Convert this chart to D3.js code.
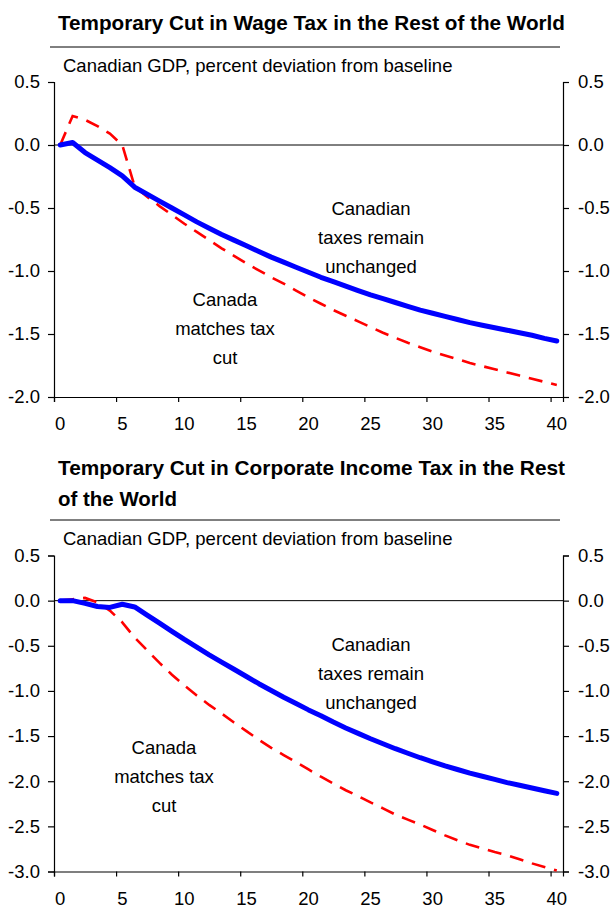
<!DOCTYPE html>
<html>
<head>
<meta charset="utf-8">
<script src="https://cdn.jsdelivr.net/npm/d3@7"></script>
<style>
  body { margin: 0; background: #fff; }
  svg { display: block; font-family: "Liberation Sans", Arial, sans-serif; }
</style>
</head>
<body>
<script>
// quarters after the shock (0..40)
var quarters = d3.range(0, 41);
var xTicks = [0, 5, 10, 15, 20, 25, 30, 35, 40];

// chart 1: temporary cut in wage tax
var wageUnchanged = [0.00, 0.02, -0.06, -0.12, -0.18, -0.245, -0.335, -0.39, -0.445, -0.50,
  -0.555, -0.61, -0.66, -0.71, -0.755, -0.80, -0.845, -0.89, -0.93, -0.97,
  -1.01, -1.05, -1.085, -1.12, -1.155, -1.19, -1.22, -1.25, -1.28, -1.31,
  -1.335, -1.36, -1.385, -1.41, -1.43, -1.45, -1.47, -1.49, -1.51, -1.535, -1.555];
var wageMatches = [0.00, 0.23, 0.20, 0.15, 0.09, 0.00, -0.33, -0.41, -0.485, -0.555,
  -0.625, -0.69, -0.755, -0.82, -0.88, -0.94, -0.995, -1.05, -1.10, -1.155,
  -1.21, -1.26, -1.31, -1.355, -1.40, -1.445, -1.49, -1.53, -1.57, -1.605,
  -1.64, -1.67, -1.70, -1.73, -1.755, -1.78, -1.805, -1.83, -1.855, -1.88, -1.905];
var wageYTicks = [0.5, 0.0, -0.5, -1.0, -1.5, -2.0];

// chart 2: temporary cut in corporate income tax
var corpUnchanged = [0.00, 0.00, -0.03, -0.065, -0.075, -0.04, -0.07, -0.16, -0.25, -0.34,
  -0.43, -0.515, -0.60, -0.68, -0.76, -0.84, -0.92, -0.995, -1.07, -1.14,
  -1.21, -1.275, -1.345, -1.41, -1.47, -1.53, -1.585, -1.64, -1.69, -1.74,
  -1.785, -1.83, -1.87, -1.91, -1.945, -1.98, -2.015, -2.045, -2.075, -2.105, -2.135];
var corpMatches = [0.00, 0.015, 0.03, -0.02, -0.11, -0.24, -0.41, -0.55, -0.69, -0.82,
  -0.94, -1.05, -1.155, -1.25, -1.35, -1.445, -1.54, -1.63, -1.71, -1.79,
  -1.87, -1.95, -2.025, -2.10, -2.165, -2.235, -2.30, -2.37, -2.425, -2.48,
  -2.54, -2.60, -2.655, -2.705, -2.745, -2.785, -2.82, -2.865, -2.91, -2.95, -2.99];
var corpYTicks = [0.5, 0.0, -0.5, -1.0, -1.5, -2.0, -2.5, -3.0];

var width = 616, height = 908;
var svg = d3.select("body").append("svg")
  .attr("width", width)
  .attr("height", height);

var left = 54, right = 563;
var fs = 18.5;
// plain hyphen for negatives, like the original
var fmt = function(d) { return d.toFixed(1); };

// draws one panel; top/bottom are pixel rows for the first and last y tick
var drawPanel = function(cfg) {
  var x = d3.scaleLinear().domain([0, 41]).range([left, right]);
  var y = d3.scaleLinear().domain(d3.extent(cfg.yTicks)).range([cfg.bottom, cfg.top]);
  var g = svg.append("g");

  // title lines and rule
  cfg.title.forEach(function(t, i) {
    g.append("text")
      .attr("x", 58).attr("y", cfg.titleY + i * 31)
      .attr("font-size", 20.5).attr("font-weight", "bold")
      .attr("textLength", cfg.titleLen[i]).attr("lengthAdjust", "spacingAndGlyphs")
      .text(t);
  });
  g.append("line")
    .attr("x1", 50).attr("x2", 560)
    .attr("y1", cfg.ruleY).attr("y2", cfg.ruleY)
    .attr("stroke", "#000").attr("stroke-width", 1);
  g.append("text")
    .attr("x", 63).attr("y", cfg.ruleY + 25)
    .attr("font-size", fs)
    .text("Canadian GDP, percent deviation from baseline");

  // axes
  var yLeft = d3.axisLeft(y).tickValues(cfg.yTicks).tickSize(6).tickFormat(fmt);
  var yRight = d3.axisRight(y).tickValues(cfg.yTicks).tickSize(6).tickFormat(fmt);
  var xAxis = d3.axisBottom(x).tickValues(xTicks).tickSize(5).tickFormat("");

  var gl = g.append("g").attr("transform", "translate(" + left + ",0)").call(yLeft);
  var gr = g.append("g").attr("transform", "translate(" + right + ",0)").call(yRight);
  var gx = g.append("g").attr("transform", "translate(0," + y(cfg.yTicks[cfg.yTicks.length - 1]) + ")").call(xAxis);
  [gl, gr, gx].forEach(function(a) {
    a.select(".domain").attr("stroke", "#000").attr("stroke-width", 1.2);
    a.selectAll(".tick line").attr("stroke", "#000").attr("stroke-width", 1.2);
    a.selectAll("text").attr("font-size", fs).attr("fill", "#000")
      .attr("font-family", "'Liberation Sans', Arial, sans-serif");
  });
  gl.selectAll("text").attr("x", -14);
  gr.selectAll("text").attr("x", 15);

  // x labels sit in the middle of each quarter
  g.selectAll(".xlab").data(xTicks).enter().append("text")
    .attr("x", function(d) { return x(d + 0.5); })
    .attr("y", y(cfg.yTicks[cfg.yTicks.length - 1]) + 33)
    .attr("text-anchor", "middle")
    .attr("font-size", fs)
    .text(function(d) { return d; });

  // zero line
  g.append("line")
    .attr("x1", left).attr("x2", right)
    .attr("y1", y(0)).attr("y2", y(0))
    .attr("stroke", "#000").attr("stroke-width", 1);

  var line = function(vals) {
    return d3.line()
      .x(function(d, i) { return x(quarters[i] + 0.5); })
      .y(function(d) { return y(d); })(vals);
  };

  g.append("path")
    .attr("d", line(cfg.matches))
    .attr("fill", "none").attr("stroke", "#ff0000")
    .attr("stroke-width", 2.6).attr("stroke-dasharray", "14,9");
  g.append("path")
    .attr("d", line(cfg.unchanged))
    .attr("fill", "none").attr("stroke", "#0000ff")
    .attr("stroke-width", 5).attr("stroke-linejoin", "round").attr("stroke-linecap", "round");

  // annotations
  var note = function(lines, cx, cy) {
    lines.forEach(function(t, i) {
      g.append("text")
        .attr("x", cx).attr("y", cy + i * 29)
        .attr("text-anchor", "middle").attr("font-size", fs)
        .text(t);
    });
  };
  note(["Canadian", "taxes remain", "unchanged"], 371, cfg.noteA);
  note(["Canada", "matches tax", "cut"], cfg.noteBx, cfg.noteB);
};

drawPanel({
  title: ["Temporary Cut in Wage Tax in the Rest of the World"],
  titleLen: [507],
  titleY: 30, ruleY: 47,
  yTicks: wageYTicks, top: 82, bottom: 397,
  unchanged: wageUnchanged, matches: wageMatches,
  noteA: 215, noteBx: 225, noteB: 306
});

drawPanel({
  title: ["Temporary Cut in Corporate Income Tax in the Rest", "of the World"],
  titleLen: [507, 119],
  titleY: 475, ruleY: 520,
  yTicks: corpYTicks, top: 555.5, bottom: 871.5,
  unchanged: corpUnchanged, matches: corpMatches,
  noteA: 651, noteBx: 164, noteB: 754
});
</script>
</body>
</html>
